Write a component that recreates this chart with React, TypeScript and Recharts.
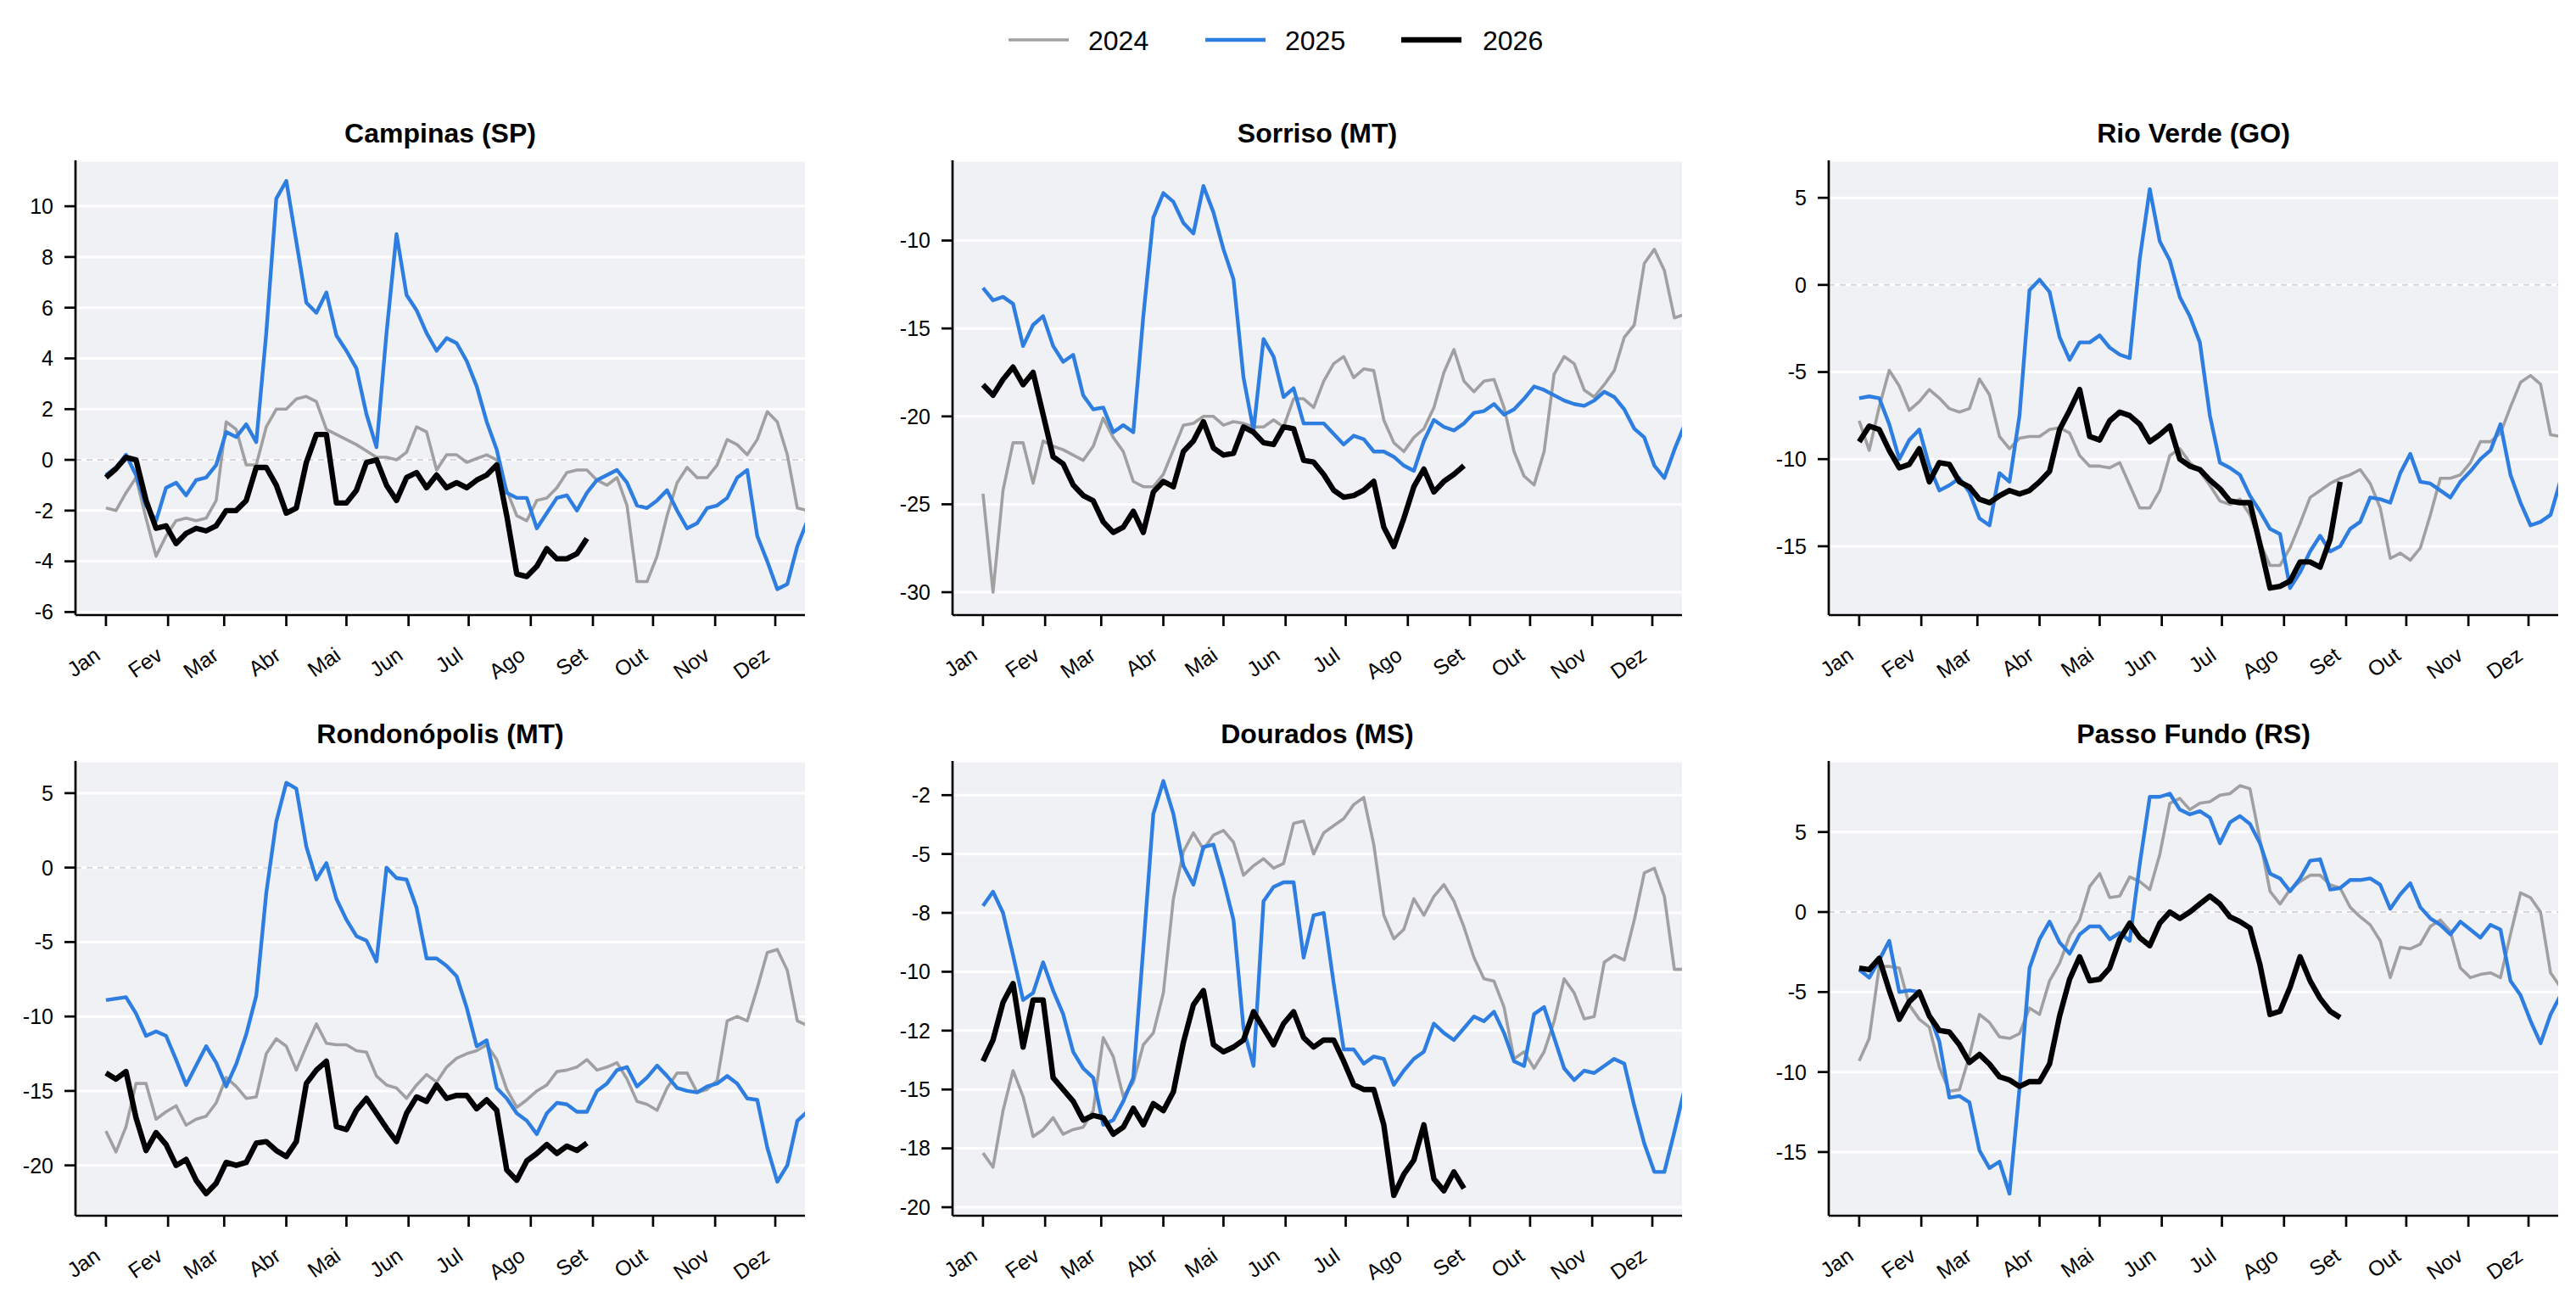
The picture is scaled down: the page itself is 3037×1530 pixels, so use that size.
import { CartesianGrid, Line, LineChart, ReferenceLine, XAxis, YAxis } from "recharts";

const FONT = '"Liberation Sans", Arial, Helvetica, sans-serif';

// one value every 5 days, day 0 = 1 Jan
const STEP_DAYS = 5;
const MONTH_TICKS = [0, 31, 59, 90, 120, 151, 181, 212, 243, 273, 304, 334];
const MONTH_LABELS = ["Jan", "Fev", "Mar", "Abr", "Mai", "Jun", "Jul", "Ago", "Set", "Out", "Nov", "Dez"];
const YEARS = ["2024", "2025", "2026"];

const campinas2024 = [
  -1.9, -2.0, -1.3, -0.7, -2.3, -3.8, -3.0, -2.4, -2.3, -2.4,
  -2.3, -1.6, 1.5, 1.2, -0.2, -0.2, 1.3, 2.0, 2.0, 2.4,
  2.5, 2.3, 1.2, 1.0, 0.8, 0.6, 0.35, 0.1, 0.1, 0.0,
  0.3, 1.3, 1.1, -0.4, 0.2, 0.2, -0.1, 0.05, 0.2, 0.0,
  -1.2, -2.2, -2.4, -1.6, -1.5, -1.1, -0.5, -0.4, -0.4, -0.8,
  -1.0, -0.7, -1.8, -4.8, -4.8, -3.8, -2.2, -0.9, -0.3, -0.7,
  -0.7, -0.2, 0.8, 0.6, 0.2, 0.8, 1.9, 1.5, 0.2, -1.9,
  -2.0,
];
const campinas2025 = [
  -0.6, -0.3, 0.2, -0.6, -1.8, -2.4, -1.1, -0.9, -1.4, -0.8,
  -0.7, -0.2, 1.1, 0.9, 1.4, 0.7, 5.0, 10.3, 11.0, 8.6,
  6.2, 5.8, 6.6, 4.9, 4.3, 3.6, 1.8, 0.5, 5.0, 8.9,
  6.5, 5.9, 5.0, 4.3, 4.8, 4.6, 3.9, 2.9, 1.5, 0.4,
  -1.3, -1.5, -1.5, -2.7, -2.1, -1.5, -1.4, -2.0, -1.3, -0.8,
  -0.6, -0.4, -0.9, -1.8, -1.9, -1.6, -1.2, -2.0, -2.7, -2.5,
  -1.9, -1.8, -1.5, -0.7, -0.4, -3.0, -4.0, -5.1, -4.9, -3.4,
  -2.4,
];
const campinas2026 = [
  -0.7, -0.35, 0.1, 0.0, -1.6, -2.7, -2.6, -3.3, -2.9, -2.7,
  -2.8, -2.6, -2.0, -2.0, -1.6, -0.3, -0.3, -1.0, -2.1, -1.9,
  -0.1, 1.0, 1.0, -1.7, -1.7, -1.2, -0.1, 0.0, -1.0, -1.6,
  -0.7, -0.5, -1.1, -0.6, -1.1, -0.9, -1.1, -0.8, -0.6, -0.2,
  -2.2, -4.5, -4.6, -4.2, -3.5, -3.9, -3.9, -3.7, -3.1,
];

const sorriso2024 = [
  -24.4, -30.0, -24.2, -21.5, -21.5, -23.8, -21.4, -21.7, -21.9, -22.2,
  -22.5, -21.7, -20.1, -21.2, -22.0, -23.7, -24.0, -24.0, -23.3, -21.9,
  -20.5, -20.4, -20.0, -20.0, -20.5, -20.3, -20.4, -20.6, -20.6, -20.2,
  -20.6, -19.0, -19.0, -19.5, -18.0, -17.0, -16.6, -17.8, -17.3, -17.4,
  -20.2, -21.5, -22.0, -21.2, -20.7, -19.5, -17.5, -16.2, -18.0, -18.6,
  -18.0, -17.9, -19.5, -22.0, -23.4, -23.9, -22.0, -17.6, -16.6, -17.0,
  -18.5, -18.9, -18.2, -17.4, -15.5, -14.8, -11.3, -10.5, -11.7, -14.4,
  -14.2,
];
const sorriso2025 = [
  -12.7, -13.4, -13.2, -13.6, -16.0, -14.8, -14.3, -16.0, -16.9, -16.5,
  -18.8, -19.6, -19.5, -20.9, -20.5, -20.9, -14.3, -8.7, -7.3, -7.8,
  -9.0, -9.6, -6.9, -8.4, -10.5, -12.2, -17.8, -20.8, -15.6, -16.6,
  -18.9, -18.4, -20.4, -20.4, -20.4, -21.0, -21.6, -21.1, -21.3, -22.0,
  -22.0, -22.3, -22.8, -23.1, -21.4, -20.2, -20.6, -20.8, -20.4, -19.8,
  -19.7, -19.3, -19.9, -19.6, -19.0, -18.3, -18.5, -18.8, -19.1, -19.3,
  -19.4, -19.1, -18.6, -18.9, -19.6, -20.7, -21.2, -22.8, -23.5, -21.9,
  -20.5,
];
const sorriso2026 = [
  -18.2, -18.8, -17.9, -17.2, -18.2, -17.5, -19.9, -22.3, -22.7, -23.9,
  -24.5, -24.8, -26.0, -26.6, -26.3, -25.4, -26.6, -24.3, -23.7, -24.0,
  -22.0, -21.4, -20.3, -21.8, -22.2, -22.1, -20.6, -20.9, -21.5, -21.6,
  -20.6, -20.7, -22.5, -22.6, -23.3, -24.2, -24.6, -24.5, -24.2, -23.7,
  -26.3, -27.4, -25.8, -24.0, -23.0, -24.3, -23.7, -23.3, -22.8,
];

const rioVerde2024 = [
  -7.8, -9.5, -7.0, -4.9, -5.8, -7.2, -6.7, -6.0, -6.5, -7.1,
  -7.3, -7.1, -5.4, -6.3, -8.7, -9.4, -8.8, -8.7, -8.7, -8.3,
  -8.2, -8.5, -9.8, -10.4, -10.4, -10.5, -10.2, -11.5, -12.8, -12.8,
  -11.8, -9.8, -9.4, -10.2, -10.7, -11.5, -12.4, -12.6, -12.3, -13.2,
  -14.8, -16.1, -16.1, -15.1, -13.7, -12.2, -11.8, -11.4, -11.1, -10.9,
  -10.6, -11.4, -12.8, -15.7, -15.4, -15.8, -15.1, -13.2, -11.1, -11.1,
  -10.9, -10.2, -9.0, -9.0, -8.5, -7.0, -5.6, -5.2, -5.7, -8.6,
  -8.7,
];
const rioVerde2025 = [
  -6.5, -6.4, -6.5, -8.0, -10.0, -8.9, -8.3, -10.4, -11.8, -11.5,
  -11.1, -11.9, -13.4, -13.8, -10.8, -11.3, -7.5, -0.3, 0.3, -0.4,
  -3.0, -4.3, -3.3, -3.3, -2.9, -3.6, -4.0, -4.2, 1.5, 5.5,
  2.5, 1.4, -0.7, -1.8, -3.3, -7.5, -10.2, -10.5, -10.9, -12.1,
  -13.0, -14.0, -14.3, -17.4, -16.5, -15.3, -14.4, -15.3, -15.0, -14.0,
  -13.6, -12.2, -12.3, -12.5, -10.8, -9.7, -11.3, -11.4, -11.8, -12.2,
  -11.3, -10.7, -10.0, -9.5, -8.0, -10.9, -12.5, -13.8, -13.6, -13.2,
  -11.2,
];
const rioVerde2026 = [
  -9.0, -8.1, -8.3, -9.5, -10.5, -10.3, -9.4, -11.3, -10.2, -10.3,
  -11.3, -11.6, -12.3, -12.5, -12.1, -11.8, -12.0, -11.8, -11.3, -10.7,
  -8.3, -7.2, -6.0, -8.7, -8.9, -7.8, -7.3, -7.5, -8.0, -9.0,
  -8.6, -8.1, -10.0, -10.4, -10.6, -11.2, -11.7, -12.4, -12.5, -12.5,
  -14.9, -17.4, -17.3, -17.0, -15.9, -15.9, -16.2, -14.6, -11.3,
];

const rondonopolis2024 = [
  -17.7, -19.1, -17.4, -14.5, -14.5, -16.9, -16.4, -16.0, -17.3, -16.9,
  -16.7, -15.8, -14.1, -14.7, -15.5, -15.4, -12.5, -11.5, -12.0, -13.6,
  -12.0, -10.5, -11.8, -11.9, -11.9, -12.3, -12.4, -14.0, -14.6, -14.8,
  -15.5, -14.6, -13.9, -14.4, -13.4, -12.8, -12.5, -12.3, -11.9, -12.9,
  -14.9, -16.1, -15.6, -15.0, -14.6, -13.7, -13.6, -13.4, -12.9, -13.6,
  -13.4, -13.1, -14.2, -15.7, -15.9, -16.3, -14.8, -13.8, -13.8, -15.1,
  -14.9, -14.3, -10.3, -10.0, -10.3, -8.1, -5.7, -5.5, -6.9, -10.3,
  -10.6,
];
const rondonopolis2025 = [
  -8.9, -8.8, -8.7, -9.8, -11.3, -11.0, -11.3, -12.9, -14.6, -13.3,
  -12.0, -13.1, -14.7, -13.2, -11.2, -8.6, -1.7, 3.1, 5.7, 5.3,
  1.4, -0.8, 0.3, -2.1, -3.5, -4.6, -4.9, -6.3, 0.0, -0.7,
  -0.8, -2.7, -6.1, -6.1, -6.6, -7.3, -9.4, -12.0, -11.6, -14.8,
  -15.5, -16.5, -17.0, -17.9, -16.5, -15.8, -15.9, -16.4, -16.4, -15.0,
  -14.5, -13.6, -13.4, -14.7, -14.1, -13.3, -14.0, -14.8, -15.0, -15.1,
  -14.7, -14.5, -14.0, -14.5, -15.5, -15.6, -18.8, -21.1, -20.0, -17.0,
  -16.4,
];
const rondonopolis2026 = [
  -13.8, -14.2, -13.7, -16.8, -19.0, -17.8, -18.6, -20.0, -19.6, -21.0,
  -21.9, -21.2, -19.8, -20.0, -19.8, -18.5, -18.4, -19.0, -19.4, -18.4,
  -14.5, -13.6, -13.0, -17.4, -17.6, -16.3, -15.5, -16.5, -17.5, -18.4,
  -16.5, -15.4, -15.7, -14.6, -15.5, -15.3, -15.3, -16.2, -15.6, -16.3,
  -20.3, -21.0, -19.7, -19.2, -18.6, -19.2, -18.7, -19.0, -18.5,
];

const dourados2024 = [
  -17.7, -18.3, -15.9, -14.2, -15.3, -17.0, -16.7, -16.2, -16.9, -16.7,
  -16.6, -15.9, -12.8, -13.6, -15.3, -14.7, -13.1, -12.6, -10.9, -6.9,
  -4.9, -4.1, -4.8, -4.2, -4.0, -4.5, -5.9, -5.5, -5.2, -5.6,
  -5.4, -3.7, -3.6, -5.0, -4.1, -3.8, -3.5, -2.9, -2.6, -4.6,
  -7.6, -8.6, -8.2, -6.9, -7.6, -6.8, -6.3, -7.0, -8.1, -9.4,
  -10.3, -10.4, -11.5, -13.7, -13.4, -14.1, -13.4, -12.1, -10.3, -10.9,
  -12.0, -11.9, -9.6, -9.3, -9.5, -7.8, -5.8, -5.6, -6.8, -9.9,
  -9.9,
];
const dourados2025 = [
  -7.2, -6.6, -7.5, -9.3, -11.2, -10.9, -9.6, -10.8, -11.8, -13.4,
  -14.1, -14.5, -16.5, -16.3, -15.5, -14.5, -9.0, -3.3, -1.9, -3.3,
  -5.5, -6.3, -4.7, -4.6, -6.1, -7.8, -12.4, -14.0, -7.0, -6.4,
  -6.2, -6.2, -9.4, -7.6, -7.5, -10.5, -13.3, -13.3, -13.9, -13.6,
  -13.7, -14.8, -14.2, -13.7, -13.4, -12.2, -12.6, -12.9, -12.4, -11.9,
  -12.1, -11.7, -12.6, -13.8, -14.0, -11.8, -11.5, -12.8, -14.1, -14.6,
  -14.2, -14.3, -14.0, -13.7, -13.9, -15.7, -17.3, -18.5, -18.5, -16.8,
  -15.0,
];
const dourados2026 = [
  -13.8, -12.9, -11.3, -10.5, -13.2, -11.2, -11.2, -14.5, -15.0, -15.5,
  -16.3, -16.1, -16.2, -16.9, -16.6, -15.8, -16.5, -15.6, -15.9, -15.1,
  -13.0, -11.4, -10.8, -13.1, -13.4, -13.2, -12.9, -11.7, -12.4, -13.1,
  -12.2, -11.7, -12.8, -13.2, -12.9, -12.9, -13.8, -14.8, -15.0, -15.0,
  -16.5, -19.5, -18.6, -18.0, -16.5, -18.8, -19.3, -18.5, -19.2,
];

const passoFundo2024 = [
  -9.3, -7.9, -3.4, -3.4, -3.5, -5.8, -6.7, -7.2, -9.7, -11.2,
  -11.1, -9.0, -6.4, -6.9, -7.8, -7.9, -7.6, -6.0, -6.4, -4.3,
  -3.2, -1.5, -0.5, 1.6, 2.4, 0.9, 1.0, 2.2, 1.9, 1.4,
  3.6, 6.8, 7.1, 6.4, 6.8, 6.9, 7.3, 7.4, 7.9, 7.7,
  4.5, 1.3, 0.5, 1.4, 1.9, 2.3, 2.3, 1.7, 1.5, 0.3,
  -0.3, -0.8, -1.8, -4.1, -2.2, -2.3, -2.0, -0.9, -0.5, -1.2,
  -3.5, -4.1, -3.9, -3.8, -4.1, -1.4, 1.2, 0.9, 0.0, -3.8,
  -4.7,
];
const passoFundo2025 = [
  -3.6, -4.1, -3.0, -1.8, -5.0, -4.9, -5.0, -6.4, -8.1, -11.6,
  -11.5, -11.9, -14.9, -16.0, -15.6, -17.6, -11.0, -3.5, -1.7, -0.6,
  -1.9, -2.6, -1.4, -0.9, -0.9, -1.7, -1.3, -1.8, 3.0, 7.2,
  7.2, 7.4, 6.4, 6.1, 6.3, 5.9, 4.3, 5.6, 6.0, 5.5,
  4.3, 2.4, 2.1, 1.3, 2.1, 3.2, 3.3, 1.4, 1.5, 2.0,
  2.0, 2.1, 1.7, 0.2, 1.1, 1.8, 0.3, -0.4, -0.8, -1.4,
  -0.6, -1.1, -1.6, -0.8, -1.1, -4.3, -5.2, -6.8, -8.2, -6.4,
  -5.2,
];
const passoFundo2026 = [
  -3.5, -3.6, -2.9, -4.9, -6.7, -5.6, -5.0, -6.5, -7.4, -7.5,
  -8.3, -9.4, -8.9, -9.5, -10.3, -10.5, -10.9, -10.6, -10.6, -9.5,
  -6.5, -4.2, -2.8, -4.3, -4.2, -3.5, -1.7, -0.7, -1.6, -2.1,
  -0.7, 0.0, -0.4, 0.0, 0.5, 1.0, 0.5, -0.3, -0.6, -1.0,
  -3.3, -6.4, -6.2, -4.7, -2.8, -4.3, -5.4, -6.2, -6.6,
];

const campinasTicks = [-6, -4, -2, 0, 2, 4, 6, 8, 10];
const sorrisoTicks = [-30, -25, -20, -15, -10];
const rioVerdeTicks = [-15, -10, -5, 0, 5];
const rondonopolisTicks = [-20, -15, -10, -5, 0, 5];
const douradosTicks = [-20, -17.5, -15, -12.5, -10, -7.5, -5, -2.5];
const douradosTickLabels = ["-20", "-18", "-15", "-12", "-10", "-8", "-5", "-2"];
const passoFundoTicks = [-15, -10, -5, 0, 5];

const COLORS = { y2024: "#a0a0a0", y2025: "#2e7de1", y2026: "#000000" };
const WIDTHS = { y2024: 3.6, y2025: 4.4, y2026: 6.4 };

const PLOT_W = 860;
const PLOT_H = 536;
const Y_AXIS_W = 89;
const TOP_PAD = 70;
const RIGHT_PAD = 20;
const X_AXIS_H = 80;
const COL_LEFT = [89, 1123, 2156];
const ROW_TOP = [189, 897];

const panels = [
  { title: "Campinas (SP)", a: campinas2024, b: campinas2025, c: campinas2026, ticks: campinasTicks, labels: null, domain: [-6.12, 11.81], col: 0, row: 0 },
  { title: "Sorriso (MT)", a: sorriso2024, b: sorriso2025, c: sorriso2026, ticks: sorrisoTicks, labels: null, domain: [-31.3, -5.44], col: 1, row: 0 },
  { title: "Rio Verde (GO)", a: rioVerde2024, b: rioVerde2025, c: rioVerde2026, ticks: rioVerdeTicks, labels: null, domain: [-18.95, 7.15], col: 2, row: 0 },
  { title: "Rondonópolis (MT)", a: rondonopolis2024, b: rondonopolis2025, c: rondonopolis2026, ticks: rondonopolisTicks, labels: null, domain: [-23.38, 7.16], col: 0, row: 1 },
  { title: "Dourados (MS)", a: dourados2024, b: dourados2025, c: dourados2026, ticks: douradosTicks, labels: douradosTickLabels, domain: [-20.36, -1.05], col: 1, row: 1 },
  { title: "Passo Fundo (RS)", a: passoFundo2024, b: passoFundo2025, c: passoFundo2026, ticks: passoFundoTicks, labels: null, domain: [-18.98, 9.44], col: 2, row: 1 },
];

function buildRows(a: number[], b: number[], c: number[]) {
  return a.map((v, i) => ({
    day: i * STEP_DAYS,
    y2024: v,
    y2025: b[i],
    y2026: i < c.length ? c[i] : undefined,
  }));
}

function MonthTick(props: any) {
  const { x, y, payload } = props;
  const idx = MONTH_TICKS.indexOf(payload.value);
  return (
    <text
      transform={`translate(${x - 5},${y + 38}) rotate(-35)`}
      textAnchor="end"
      fontSize={25}
      fontFamily={FONT}
      fill="#000"
    >
      {MONTH_LABELS[idx]}
    </text>
  );
}

function Panel({ p }: { p: (typeof panels)[number] }) {
  const rows = buildRows(p.a, p.b, p.c);
  const left = COL_LEFT[p.col];
  const top = ROW_TOP[p.row];
  const hasZero = p.domain[0] < 0 && p.domain[1] > 0;
  return (
    <>
      <div
        style={{
          position: "absolute",
          left,
          top: top - 50,
          width: PLOT_W,
          textAlign: "center",
          fontFamily: FONT,
          fontWeight: 700,
          fontSize: 32,
          lineHeight: "36px",
          color: "#000",
        }}
      >
        {p.title}
      </div>
      <div style={{ position: "absolute", left: left - Y_AXIS_W, top: top - TOP_PAD }}>
        <LineChart
          width={Y_AXIS_W + PLOT_W + RIGHT_PAD}
          height={TOP_PAD + PLOT_H + X_AXIS_H}
          data={rows}
          margin={{ top: TOP_PAD, right: RIGHT_PAD, bottom: 0, left: 0 }}
        >
          <CartesianGrid vertical={false} stroke="#ffffff" strokeWidth={3} fill="#f0f1f5" fillOpacity={1} />
          {hasZero && <ReferenceLine y={0} stroke="#d3d6dc" strokeWidth={2} strokeDasharray="7 6" />}
          <XAxis
            type="number"
            dataKey="day"
            domain={[-15.2, 348.8]}
            ticks={MONTH_TICKS}
            interval={0}
            allowDataOverflow
            height={X_AXIS_H}
            tickSize={13}
            tickMargin={0}
            axisLine={{ stroke: "#000", strokeWidth: 2.7 }}
            tickLine={{ stroke: "#000", strokeWidth: 2.7 }}
            tick={<MonthTick />}
          />
          <YAxis
            type="number"
            domain={p.domain}
            ticks={p.ticks}
            interval={0}
            allowDataOverflow
            width={Y_AXIS_W}
            tickSize={13}
            tickMargin={13}
            axisLine={{ stroke: "#000", strokeWidth: 2.7 }}
            tickLine={{ stroke: "#000", strokeWidth: 2.7 }}
            tick={{ fill: "#000", fontSize: 25, fontFamily: FONT }}
            tickFormatter={(v: number) => (p.labels ? p.labels[p.ticks.indexOf(v)] : String(v))}
          />
          {(["y2024", "y2025", "y2026"] as const).map((k) => (
            <Line
              key={k}
              type="linear"
              dataKey={k}
              stroke={COLORS[k]}
              strokeWidth={WIDTHS[k]}
              strokeLinejoin="round"
              dot={false}
              activeDot={false}
              isAnimationActive={false}
            />
          ))}
        </LineChart>
      </div>
    </>
  );
}

function LegendBar() {
  const items = [
    { key: "y2024" as const, x: 1189, tx: 1283 },
    { key: "y2025" as const, x: 1421, tx: 1515 },
    { key: "y2026" as const, x: 1652, tx: 1748 },
  ];
  return (
    <svg width={3037} height={100} style={{ position: "absolute", left: 0, top: 0 }}>
      {items.map((it, i) => (
        <g key={it.key}>
          <line x1={it.x} x2={it.x + 71} y1={47} y2={47} stroke={COLORS[it.key]} strokeWidth={WIDTHS[it.key]} />
          <text x={it.tx} y={48} dominantBaseline="central" fontSize={32} fontFamily={FONT} fill="#000">
            {YEARS[i]}
          </text>
        </g>
      ))}
    </svg>
  );
}

export default function App() {
  return (
    <div
      style={{
        position: "absolute",
        left: 0,
        top: 0,
        width: 3037,
        height: 1530,
        background: "#ffffff",
        overflow: "hidden",
      }}
    >
      <LegendBar />
      {panels.map((p) => (
        <Panel key={p.title} p={p} />
      ))}
    </div>
  );
}
